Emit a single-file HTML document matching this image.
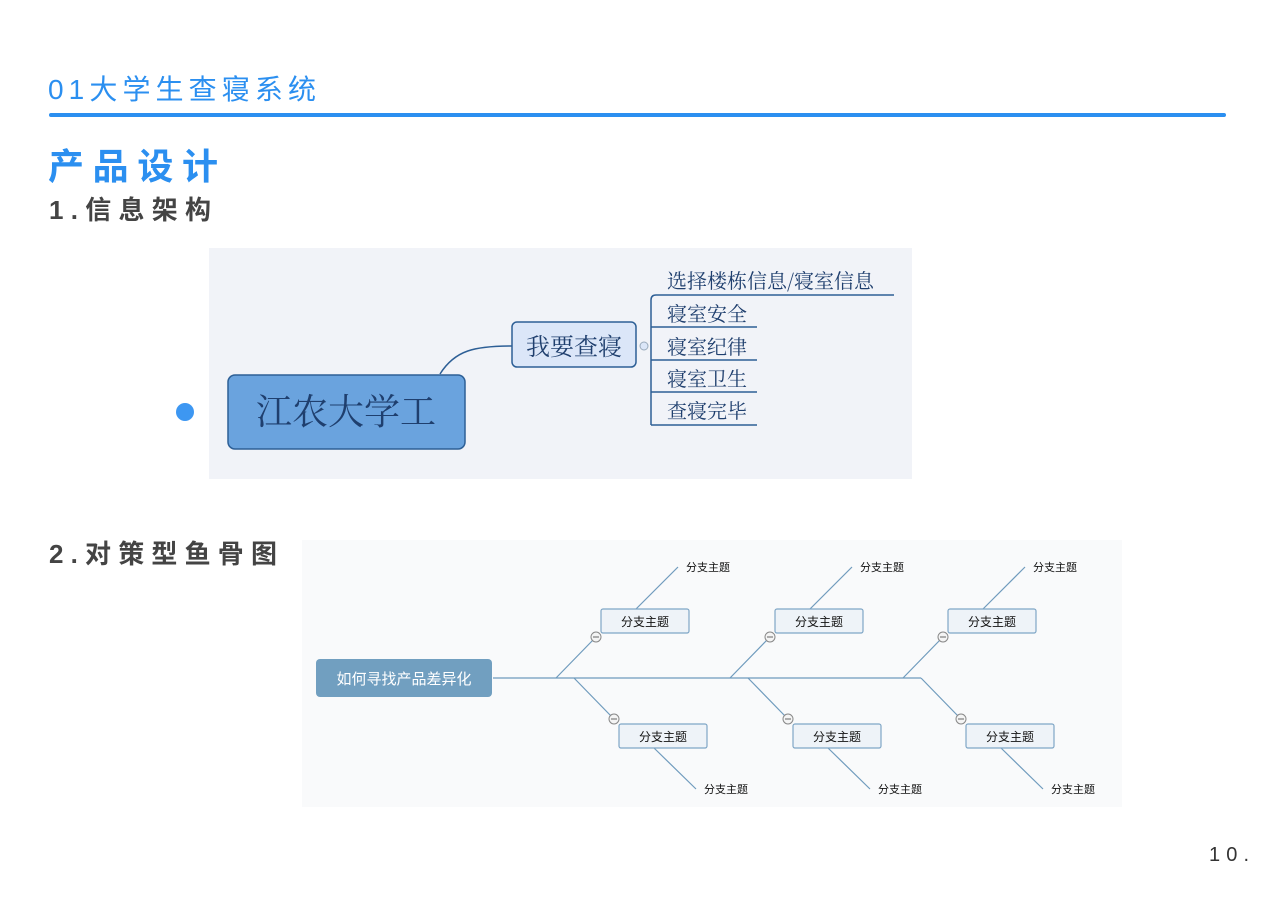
<!DOCTYPE html>
<html><head><meta charset="utf-8"><style>
html,body{margin:0;padding:0;background:#fff;}
svg{display:block}
.s{font-family:"Liberation Sans","Noto Sans CJK SC",sans-serif;}
.sf{font-family:"Noto Serif CJK SC","Liberation Serif",serif;}
</style></head><body>
<svg width="1280" height="905" viewBox="0 0 1280 905" xmlns="http://www.w3.org/2000/svg">
<rect width="1280" height="905" fill="#fff"/>
<text class="s" x="48" y="99" font-size="28" fill="#2b8ff0" textLength="268" lengthAdjust="spacing">01大学生查寝系统</text>
<rect x="49" y="113" width="1177" height="4" rx="2" fill="#2b8ff0"/>
<text class="s" x="48" y="179" font-size="36" font-weight="bold" fill="#2b8ff0" textLength="170" lengthAdjust="spacing">产品设计</text>
<text class="s" x="49" y="219" font-size="26" font-weight="bold" fill="#444" textLength="162" lengthAdjust="spacing">1.信息架构</text>
<text class="s" x="49" y="563" font-size="26" font-weight="bold" fill="#444" textLength="228" lengthAdjust="spacing">2.对策型鱼骨图</text>
<text class="s" x="1209" y="861" font-size="20" fill="#333" textLength="40" lengthAdjust="spacing">10.</text>
<circle cx="185" cy="412" r="9" fill="#3d97f2"/>

<!-- mind map -->
<rect x="209" y="248" width="703" height="231" fill="#f1f3f8"/>
<path d="M440 374 C455 350 475 346 512 346" fill="none" stroke="#2d5f96" stroke-width="1.5"/>
<rect x="228" y="375" width="237" height="74" rx="7" fill="#6aa3de" stroke="#2d5f96" stroke-width="1.5"/>
<text class="sf" x="346" y="424" font-size="36" fill="#1f3f6e" text-anchor="middle">江农大学工</text>
<rect x="512" y="322" width="124" height="45" rx="5" fill="#dbe6f8" stroke="#2d5f96" stroke-width="1.5"/>
<text class="sf" x="574" y="355" font-size="24" fill="#1f3f6e" text-anchor="middle">我要查寝</text>
<circle cx="644" cy="346" r="4" fill="#dbe6f8" stroke="#9ab" stroke-width="1"/>
<g stroke="#2d5f96" stroke-width="1.5" fill="none">
<path d="M651 425 V300 Q651 295 656 295 H894"/>
<path d="M651 327 H757 M651 360 H757 M651 392 H757 M651 425 H757"/>
</g>
<g class="sf" font-size="20" fill="#1f3f6e">
<text x="667" y="288">选择楼栋信息/寝室信息</text>
<text x="667" y="321">寝室安全</text>
<text x="667" y="354">寝室纪律</text>
<text x="667" y="386">寝室卫生</text>
<text x="667" y="418">查寝完毕</text>
</g>

<!-- fishbone -->
<rect x="302" y="540" width="820" height="267" fill="#f9fafb"/>
<rect x="316" y="659" width="176" height="38" rx="4" fill="#719fc0"/>
<text class="s" x="404" y="684" font-size="15" fill="#fff" text-anchor="middle">如何寻找产品差异化</text>
<line x1="493" y1="678" x2="921" y2="678" stroke="#6f9bbd" stroke-width="1.2"/>
<g id="g1">
<g stroke="#6f9bbd" stroke-width="1.2" fill="none">
<line x1="556" y1="678" x2="593" y2="640"/>
<line x1="636" y1="609" x2="678" y2="567"/>
<line x1="574" y1="678" x2="611" y2="716"/>
<line x1="654" y1="748" x2="696" y2="789"/>
</g>
<rect x="601" y="609" width="88" height="24" rx="2" fill="#eef3f8" stroke="#7fa6c6" stroke-width="1.2"/>
<text class="s" x="645" y="626" font-size="12" fill="#111" text-anchor="middle">分支主题</text>
<rect x="619" y="724" width="88" height="24" rx="2" fill="#eef3f8" stroke="#7fa6c6" stroke-width="1.2"/>
<text class="s" x="663" y="741" font-size="12" fill="#111" text-anchor="middle">分支主题</text>
<circle cx="596" cy="637" r="5" fill="#f4f4f4" stroke="#888"/><line x1="593" y1="637" x2="599" y2="637" stroke="#666"/>
<circle cx="614" cy="719" r="5" fill="#f4f4f4" stroke="#888"/><line x1="611" y1="719" x2="617" y2="719" stroke="#666"/>
<text class="s" x="686" y="571" font-size="11" fill="#111">分支主题</text>
<text class="s" x="704" y="793" font-size="11" fill="#111">分支主题</text>
</g>
<use href="#g1" x="174"/>
<use href="#g1" x="347"/>
</svg>
</body></html>
